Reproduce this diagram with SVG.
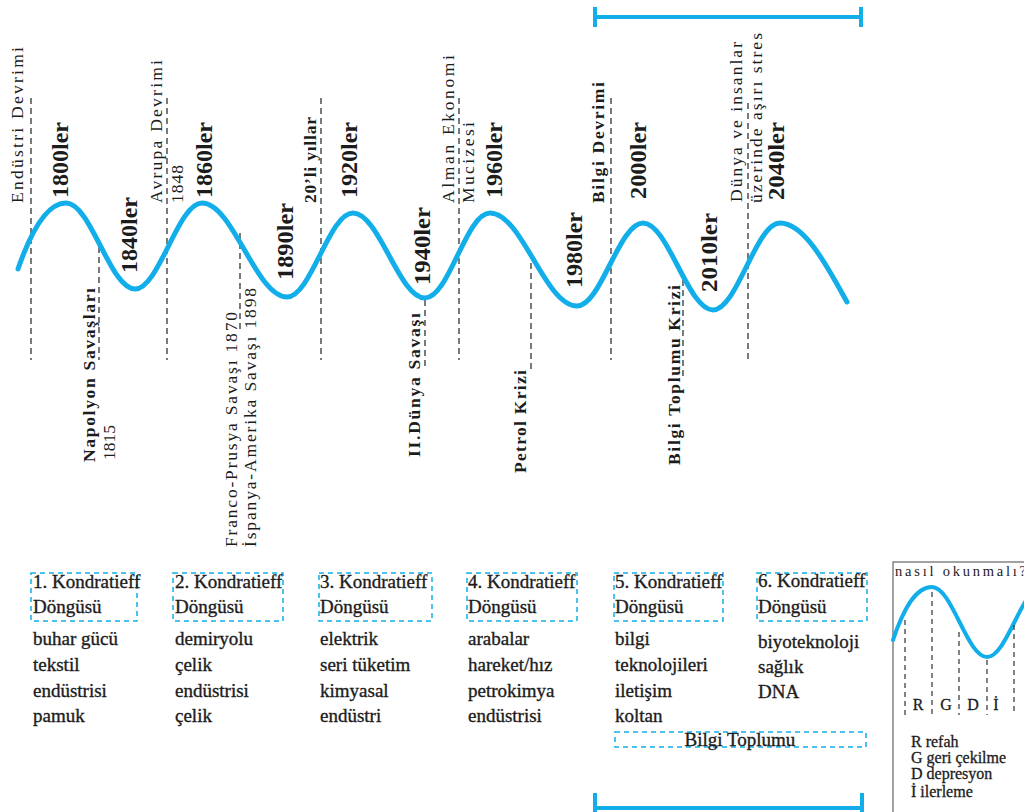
<svg xmlns="http://www.w3.org/2000/svg" width="1024" height="812" viewBox="0 0 1024 812" font-family="'Liberation Serif', 'Times New Roman', serif">
<style>
.wave{fill:none;stroke:#12aeea;stroke-width:5;stroke-linecap:round}
.bar{fill:none;stroke:#12aeea;stroke-width:4}
.dash{stroke:#333;stroke-width:1.3;stroke-dasharray:6 4;fill:none}
.box{fill:none;stroke:#12aeea;stroke-width:1.5;stroke-dasharray:5 4}
text{font-family:"Liberation Serif","Times New Roman",serif;fill:#1c1c1c}
.yr{font-size:23px;font-weight:bold}
.ev{font-size:17.5px}
.evb{font-size:17.5px;font-weight:bold}
.bt{font-size:19px;stroke:#1c1c1c;stroke-width:0.35}
.lg{font-size:16px;stroke:#1c1c1c;stroke-width:0.3}
</style>
<rect width="1024" height="812" fill="#fff"/>

<g id="brackets">
<path class="bar" d="M595,17 H861 M595,7 V27 M861,7 V27"/>
<path class="bar" d="M595,808 H862 M595,793 V812 M862,793 V812"/>
</g>

<g id="connectors">
<line class="dash" x1="31" y1="98" x2="31" y2="360"/>
<line class="dash" x1="99" y1="247" x2="99" y2="360"/>
<line class="dash" x1="167" y1="98" x2="167" y2="360"/>
<line class="dash" x1="240" y1="233" x2="240" y2="330"/>
<line class="dash" x1="321" y1="98" x2="321" y2="360"/>
<line class="dash" x1="425" y1="300" x2="425" y2="370"/>
<line class="dash" x1="459" y1="98" x2="459" y2="360"/>
<line class="dash" x1="531" y1="253" x2="531" y2="370"/>
<line class="dash" x1="611" y1="98" x2="611" y2="360"/>
<line class="dash" x1="683" y1="280" x2="683" y2="380"/>
<line class="dash" x1="748" y1="103" x2="748" y2="360"/>
</g>

<g id="wave">
<path class="wave" d="M18,269 C28,240 44,203 66,203 C91,203 110,289 135,289 C159,289 178,203 202,203 C233,203 256,297 287,297 C311,297 329,213 353,213 C379,213 399,298 425,298 C449,298 466,213 490,213 C522,213 545,306 577,306 C601,306 619,223 643,223 C668,223 688,310 713,310 C737,310 756,223 780,223 C805,223 828,268 847,302"/>
</g>

<g id="years">
<text class="yr" transform="translate(68,198) rotate(-90)" textLength="76" lengthAdjust="spacingAndGlyphs">1800ler</text>
<text class="yr" transform="translate(137,273) rotate(-90)" textLength="76" lengthAdjust="spacingAndGlyphs">1840ler</text>
<text class="yr" transform="translate(212,198) rotate(-90)" textLength="76" lengthAdjust="spacingAndGlyphs">1860ler</text>
<text class="yr" transform="translate(293,280) rotate(-90)" textLength="77" lengthAdjust="spacingAndGlyphs">1890ler</text>
<text class="yr" transform="translate(357,198) rotate(-90)" textLength="76" lengthAdjust="spacingAndGlyphs">1920ler</text>
<text class="yr" transform="translate(430,285) rotate(-90)" textLength="78" lengthAdjust="spacingAndGlyphs">1940ler</text>
<text class="yr" transform="translate(502,198) rotate(-90)" textLength="76" lengthAdjust="spacingAndGlyphs">1960ler</text>
<text class="yr" transform="translate(582,288) rotate(-90)" textLength="76" lengthAdjust="spacingAndGlyphs">1980ler</text>
<text class="yr" transform="translate(646,199) rotate(-90)" textLength="77" lengthAdjust="spacingAndGlyphs">2000ler</text>
<text class="yr" transform="translate(717,292) rotate(-90)" textLength="79" lengthAdjust="spacingAndGlyphs">2010ler</text>
<text class="yr" transform="translate(784,200) rotate(-90)" textLength="78" lengthAdjust="spacingAndGlyphs">2040ler</text>
</g>

<g id="events">
<text class="ev" transform="translate(23,203) rotate(-90)" textLength="156" lengthAdjust="spacing">Endüstri Devrimi</text>
<text class="ev" transform="translate(162,203) rotate(-90)" textLength="143" lengthAdjust="spacing">Avrupa Devrimi</text>
<text class="ev" transform="translate(183,203) rotate(-90)" textLength="38" lengthAdjust="spacing">1848</text>
<text class="evb" transform="translate(316,203) rotate(-90)" textLength="86" lengthAdjust="spacing">20’li yıllar</text>
<text class="ev" transform="translate(454,203) rotate(-90)" textLength="148" lengthAdjust="spacing">Alman Ekonomi</text>
<text class="ev" transform="translate(474,203) rotate(-90)" textLength="81" lengthAdjust="spacing">Mucizesi</text>
<text class="evb" transform="translate(604,203) rotate(-90)" textLength="121" lengthAdjust="spacing">Bilgi Devrimi</text>
<text class="ev" transform="translate(742,202) rotate(-90)" textLength="160" lengthAdjust="spacing">Dünya ve insanlar</text>
<text class="ev" transform="translate(762,203) rotate(-90)" textLength="170" lengthAdjust="spacing">üzerinde aşırı stres</text>
<text class="evb" transform="translate(95,462) rotate(-90)" textLength="174" lengthAdjust="spacing">Napolyon Savaşları</text>
<text class="ev" transform="translate(115,460) rotate(-90)" textLength="35" lengthAdjust="spacing">1815</text>
<text class="ev" transform="translate(237,547) rotate(-90)" textLength="235" lengthAdjust="spacing">Franco-Prusya Savaşı 1870</text>
<text class="ev" transform="translate(256,547) rotate(-90)" textLength="259" lengthAdjust="spacing">İspanya-Amerika Savaşı 1898</text>
<text class="evb" transform="translate(420,457) rotate(-90)" textLength="144" lengthAdjust="spacing">II.Dünya Savaşı</text>
<text class="evb" transform="translate(526,473) rotate(-90)" textLength="103" lengthAdjust="spacing">Petrol Krizi</text>
<text class="evb" transform="translate(680,465) rotate(-90)" textLength="180" lengthAdjust="spacing">Bilgi Toplumu Krizi</text>
</g>

<g id="cycle1">
<rect class="box" x="31" y="573" width="106" height="48"/>
<text class="bt" x="33" y="588">1. Kondratieff</text>
<text class="bt" x="33" y="613">Döngüsü</text>
<text class="bt" x="33" y="645">buhar gücü</text>
<text class="bt" x="33" y="671">tekstil</text>
<text class="bt" x="33" y="697">endüstrisi</text>
<text class="bt" x="33" y="722">pamuk</text>
</g>
<g id="cycle2">
<rect class="box" x="173" y="573" width="110" height="48"/>
<text class="bt" x="175" y="588">2. Kondratieff</text>
<text class="bt" x="175" y="613">Döngüsü</text>
<text class="bt" x="175" y="645">demiryolu</text>
<text class="bt" x="175" y="671">çelik</text>
<text class="bt" x="175" y="697">endüstrisi</text>
<text class="bt" x="175" y="722">çelik</text>
</g>
<g id="cycle3">
<rect class="box" x="319" y="573" width="113" height="48"/>
<text class="bt" x="320" y="588">3. Kondratieff</text>
<text class="bt" x="320" y="613">Döngüsü</text>
<text class="bt" x="320" y="645">elektrik</text>
<text class="bt" x="320" y="671">seri tüketim</text>
<text class="bt" x="320" y="697">kimyasal</text>
<text class="bt" x="320" y="722">endüstri</text>
</g>
<g id="cycle4">
<rect class="box" x="467" y="573" width="110" height="48"/>
<text class="bt" x="468" y="588">4. Kondratieff</text>
<text class="bt" x="468" y="613">Döngüsü</text>
<text class="bt" x="468" y="645">arabalar</text>
<text class="bt" x="468" y="671">hareket/hız</text>
<text class="bt" x="468" y="697">petrokimya</text>
<text class="bt" x="468" y="722">endüstrisi</text>
</g>
<g id="cycle5">
<rect class="box" x="614" y="573" width="109" height="48"/>
<text class="bt" x="615" y="588">5. Kondratieff</text>
<text class="bt" x="615" y="613">Döngüsü</text>
<text class="bt" x="615" y="645">bilgi</text>
<text class="bt" x="615" y="671">teknolojileri</text>
<text class="bt" x="615" y="697">iletişim</text>
<text class="bt" x="615" y="722">koltan</text>
</g>
<g id="cycle6">
<rect class="box" x="757" y="573" width="110" height="48"/>
<text class="bt" x="758" y="587">6. Kondratieff</text>
<text class="bt" x="758" y="613">Döngüsü</text>
<text class="bt" x="758" y="648">biyoteknoloji</text>
<text class="bt" x="758" y="673">sağlık</text>
<text class="bt" x="758" y="698">DNA</text>
</g>
<g id="bilgi-toplumu">
<rect class="box" x="615" y="732" width="251" height="15"/>
<text class="bt" x="740" y="746" text-anchor="middle">Bilgi Toplumu</text>
</g>

<g id="legend">
<rect x="893" y="562" width="140" height="260" fill="none" stroke="#666" stroke-width="1.2"/>
<text x="895" y="576" style="font-size:14.5px" textLength="131" lengthAdjust="spacing">nasıl okunmalı?</text>
<path class="wave" style="stroke-width:4" d="M893,640 C903,610 915,587 932,587 C952,587 967,657 987,657 C1007,657 1022,587 1042,587"/>
<g class="dash" style="stroke-dasharray:5 4;stroke-width:1.2">
<line x1="905" y1="620" x2="905" y2="715"/>
<line x1="932" y1="592" x2="932" y2="715"/>
<line x1="959" y1="632" x2="959" y2="715"/>
<line x1="987" y1="660" x2="987" y2="715"/>
<line x1="1014" y1="625" x2="1014" y2="715"/>
</g>
<text class="lg" x="918" y="710" text-anchor="middle">R</text>
<text class="lg" x="946" y="710" text-anchor="middle">G</text>
<text class="lg" x="973" y="710" text-anchor="middle">D</text>
<text class="lg" x="996" y="710" text-anchor="middle">İ</text>
<text class="lg" x="911" y="747">R refah</text>
<text class="lg" x="911" y="763">G geri çekilme</text>
<text class="lg" x="911" y="779">D depresyon</text>
<text class="lg" x="911" y="797">İ  ilerleme</text>
</g>
</svg>
